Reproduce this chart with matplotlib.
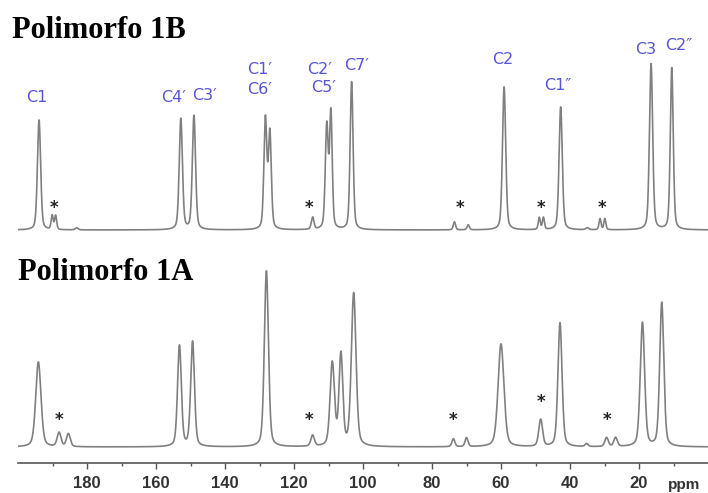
import numpy as np
import matplotlib.pyplot as plt

# peak tables: position (ppm), height, FWHM (ppm)
pos_1b = [193.9, 190.1, 189.1, 183.0, 152.8, 149.0, 128.3, 127.0, 114.6,
          110.5, 109.3, 103.3, 73.5, 69.5, 59.1, 48.9, 47.7, 42.7, 35.0,
          31.3, 29.9, 16.5, 10.5]
hgt_1b = [110, 14, 14, 2, 111, 114, 110, 96, 12,
          103, 115, 148, 8, 5, 143, 12, 12, 123, 2,
          11, 11, 166, 162]
wid_1b = [1.1, 0.7, 0.7, 1.0, 1.1, 1.1, 1.0, 1.0, 0.9,
          1.0, 0.9, 1.0, 0.8, 0.8, 1.1, 0.7, 0.7, 1.1, 1.0,
          0.7, 0.7, 1.1, 1.0]

pos_1a = [194.1, 188.1, 185.4, 153.2, 149.4, 128.0, 114.6, 108.9, 106.4,
          102.7, 73.8, 70.0, 60.0, 48.5, 42.9, 35.2, 29.4, 26.8, 19.0, 13.4]
hgt_1a = [85, 14, 13, 101, 105, 176, 11, 83, 91,
          153, 8, 9, 103, 27, 124, 3, 9, 9, 124, 144]
wid_1a = [1.8, 1.3, 1.3, 1.3, 1.3, 1.4, 1.2, 1.5, 1.3,
          1.6, 1.0, 1.0, 2.0, 1.3, 1.4, 1.0, 1.2, 1.2, 1.5, 1.4]

labels_1b = ["C1", "C4′", "C3′", "C1′", "C6′", "C2′", "C5′", "C7′",
             "C2", "C1″", "C3", "C2″"]
label_ppm = [194.5, 155.0, 145.8, 130.0, 130.0, 112.5, 111.3, 102.0,
             59.5, 43.5, 18.0, 8.4]
label_y = [365, 366, 367, 393, 373, 393, 375, 398, 403, 378, 414, 418]

stars_1b = [189.6, 115.6, 72.0, 48.3, 30.6]
stars_1a = [188.0, 115.6, 73.8, 48.5, 29.4]
stars_1a_y = [43, 43, 43, 61, 43]

ppm = np.linspace(200, 0, 6000)


def spectrum(pos, hgt, wid, eta=0.35):
    y = np.zeros_like(ppm)
    for p, h, w in zip(pos, hgt, wid):
        g = (w / 2) ** 2
        lor = g / ((ppm - p) ** 2 + g)
        gau = np.exp(-4 * np.log(2) * (ppm - p) ** 2 / w ** 2)
        y += h * (eta * lor + (1 - eta) * gau)
    return y


fig = plt.figure(figsize=(7.08, 4.93), dpi=100)
ax = fig.add_axes([18 / 708, 30 / 493, 690 / 708, 463 / 493])

line_kw = dict(color="#808080", lw=1.2)
ax.plot(ppm, 233 + spectrum(pos_1b, hgt_1b, wid_1b), **line_kw)
ax.plot(ppm, 16 + spectrum(pos_1a, hgt_1a, wid_1a), **line_kw)

for t, x, y in zip(labels_1b, label_ppm, label_y):
    ax.text(x, y, t, color="#5555d5", fontsize=11.5, ha="center", va="center",
            family="DejaVu Sans")

for x in stars_1b:
    ax.text(x, 255, "*", fontsize=12, fontweight="bold", ha="center", va="center",
            color="#222222")
for x, y in zip(stars_1a, stars_1a_y):
    ax.text(x, y, "*", fontsize=12, fontweight="bold", ha="center", va="center",
            color="#222222")

ax.text(-6 / 690, 433 / 463, "Polimorfo 1B", transform=ax.transAxes,
        family="Liberation Serif", fontweight="bold", fontsize=22, va="center")
ax.text(0, 191 / 463, "Polimorfo 1A", transform=ax.transAxes,
        family="Liberation Serif", fontweight="bold", fontsize=22, va="center")

ax.set_xlim(200, 0)
ax.set_ylim(0, 463)
for s in ["top", "left", "right"]:
    ax.spines[s].set_visible(False)
ax.spines["bottom"].set_color("#555555")
ax.spines["bottom"].set_linewidth(1.2)
ax.set_yticks([])
ax.set_xticks([180, 160, 140, 120, 100, 80, 60, 40, 20])
ax.set_xticks(np.arange(190, 0, -20), minor=True)
ax.tick_params(axis="x", which="major", direction="out", length=4, width=1,
               color="#555555", labelsize=12, labelcolor="#333333", pad=5)
ax.tick_params(axis="x", which="minor", direction="out", length=2, width=1,
               color="#555555")
for lab in ax.get_xticklabels():
    lab.set_fontweight("bold")
    lab.set_family("Liberation Sans")
ax.text(7, -22, "ppm", fontsize=11, fontweight="bold", color="#333333",
        ha="center", va="center", family="Liberation Sans")

fig.savefig("out.png", dpi=100)
